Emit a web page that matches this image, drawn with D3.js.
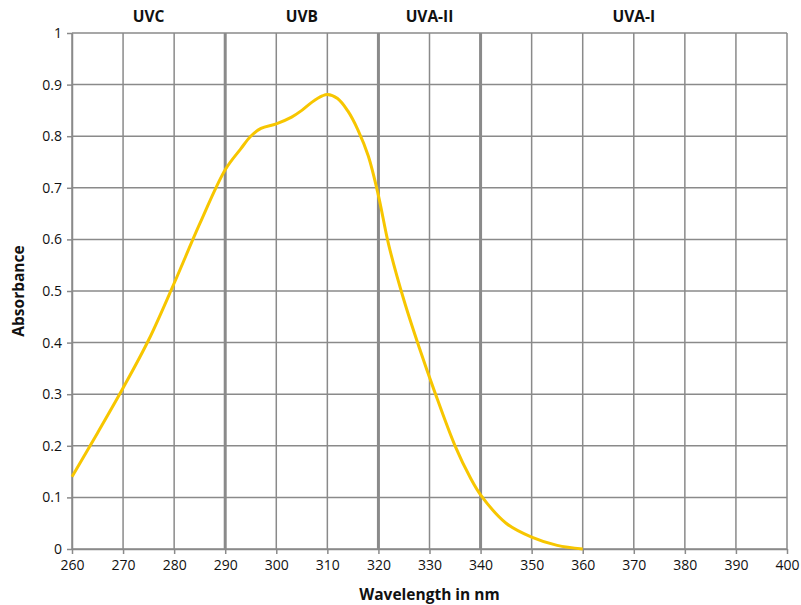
<!DOCTYPE html>
<html>
<head>
<meta charset="utf-8">
<script src="https://cdn.jsdelivr.net/npm/d3@7"></script>
<style>
  body { margin: 0; background: #fff; }
  text { font-family: "Open Sans", sans-serif; }
</style>
</head>
<body>
<div id="chart"></div>
<script>
// data
const wavelengths = [260, 265, 270, 275, 280, 285, 290, 293, 295, 297, 300, 303, 305, 307, 309, 310, 312, 314, 316, 318, 320, 322, 325, 328, 331, 335, 338, 340, 345, 350, 355, 360];
const absorbance  = [0.14, 0.225, 0.312, 0.405, 0.515, 0.63, 0.735, 0.775, 0.80, 0.815, 0.824, 0.837, 0.85, 0.866, 0.878, 0.881, 0.873, 0.849, 0.812, 0.762, 0.685, 0.59, 0.482, 0.39, 0.305, 0.20, 0.138, 0.105, 0.05, 0.023, 0.007, 0.0];
const xTicks = [260, 270, 280, 290, 300, 310, 320, 330, 340, 350, 360, 370, 380, 390, 400];
const yTicks = [0, 0.1, 0.2, 0.3, 0.4, 0.5, 0.6, 0.7, 0.8, 0.9, 1];
const bandEdges = [290, 320, 340];
const bandNames = ["UVC", "UVB", "UVA-II", "UVA-I"];
const bandMids = [275, 305, 330, 370];

const margin = {top: 33, right: 14, bottom: 56, left: 72},
    width = 801 - margin.left - margin.right,
    height = 605 - margin.top - margin.bottom;

const svg = d3.select("#chart")
  .append("svg")
    .attr("width", width + margin.left + margin.right)
    .attr("height", height + margin.top + margin.bottom)
  .append("g")
    .attr("transform", `translate(${margin.left},${margin.top})`);

const x = d3.scaleLinear().domain([260, 400]).range([0, width]);
const y = d3.scaleLinear().domain([0, 1]).range([height, 0]);

// grid
svg.selectAll(".vgrid")
  .data(xTicks)
  .join("line")
    .attr("x1", d => x(d)).attr("x2", d => x(d))
    .attr("y1", 0).attr("y2", height)
    .attr("stroke", "#8a8a8a")
    .attr("stroke-width", d => bandEdges.includes(d) ? 3 : 1.5);

svg.selectAll(".hgrid")
  .data(yTicks)
  .join("line")
    .attr("x1", 0).attr("x2", width)
    .attr("y1", d => y(d)).attr("y2", d => y(d))
    .attr("stroke", "#8a8a8a")
    .attr("stroke-width", 1.5);

// axes
const xAxis = svg.append("g")
  .attr("transform", `translate(0,${height})`)
  .call(d3.axisBottom(x).tickValues(xTicks).tickSize(5).tickSizeOuter(0).tickFormat(d3.format("d")));
const yAxis = svg.append("g")
  .call(d3.axisLeft(y).tickValues(yTicks).tickSize(5).tickSizeOuter(0).tickFormat(d => d === 0 || d === 1 ? d : d3.format(".1f")(d)));

[xAxis, yAxis].forEach(a => {
  a.select(".domain").attr("stroke", "#8a8a8a").attr("stroke-width", 1.5);
  a.selectAll(".tick line").attr("stroke", "#8a8a8a").attr("stroke-width", 1.5);
  a.selectAll(".tick text").attr("fill", "#111").style("font-size", "14px");
});
xAxis.selectAll(".tick text").attr("dy", "0.9em");
yAxis.selectAll(".tick text").attr("x", -10);

// curve
const line = d3.line()
  .x((d, i) => x(wavelengths[i]))
  .y(d => y(d))
  .curve(d3.curveCatmullRom);

svg.append("path")
  .datum(absorbance)
  .attr("d", line)
  .attr("fill", "none")
  .attr("stroke", "#f7c600")
  .attr("stroke-width", 3);

// band labels
svg.selectAll(".band")
  .data(bandNames)
  .join("text")
    .attr("x", (d, i) => x(bandMids[i]))
    .attr("y", -11)
    .attr("text-anchor", "middle")
    .style("font-size", "15.5px")
    .style("font-weight", "bold")
    .attr("fill", "#111")
    .text(d => d);

// axis titles
svg.append("text")
  .attr("x", width / 2)
  .attr("y", height + 51)
  .attr("text-anchor", "middle")
  .style("font-size", "15.5px")
  .style("font-weight", "bold")
  .attr("fill", "#111")
  .text("Wavelength in nm");

svg.append("text")
  .attr("transform", `translate(${-48},${height / 2}) rotate(-90)`)
  .attr("text-anchor", "middle")
  .style("font-size", "15.5px")
  .style("font-weight", "bold")
  .attr("fill", "#111")
  .text("Absorbance");
</script>
</body>
</html>
